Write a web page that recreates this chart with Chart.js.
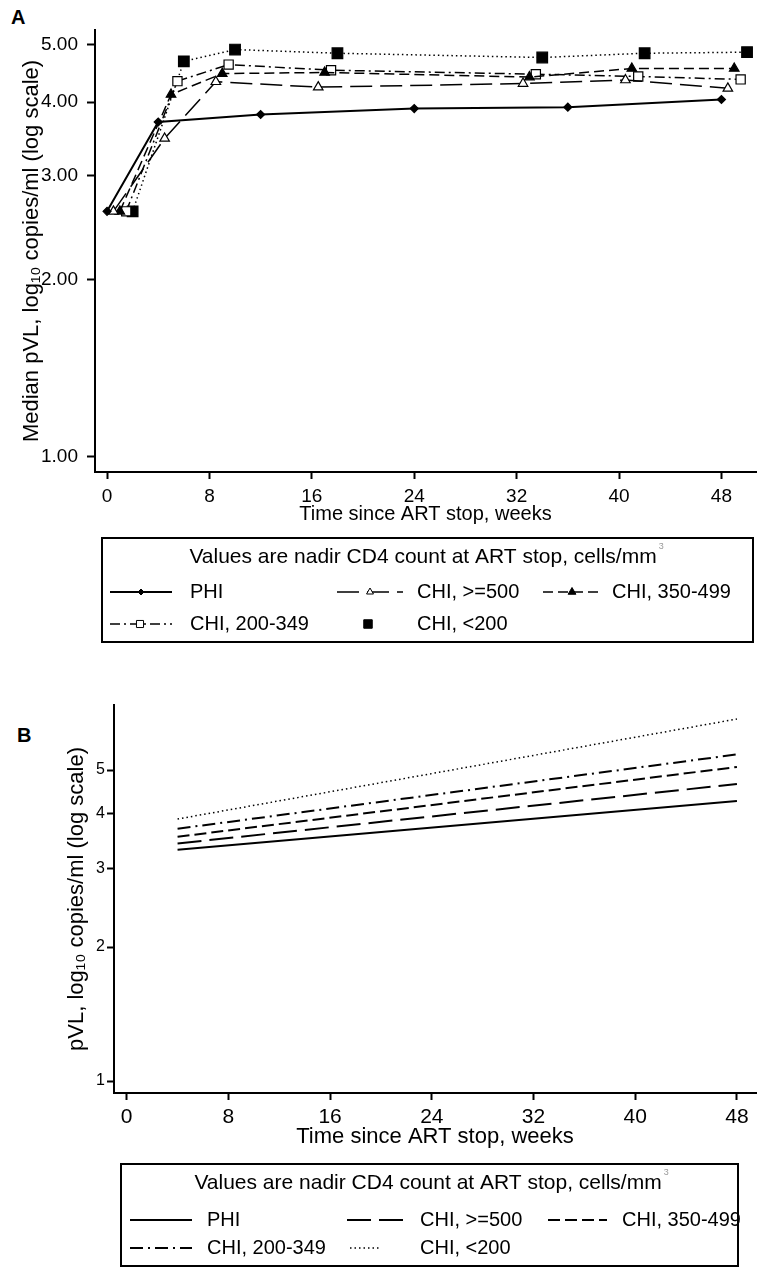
<!DOCTYPE html>
<html>
<head>
<meta charset="utf-8">
<script src="https://cdn.jsdelivr.net/npm/chart.js@4"></script>
<style>
body { margin: 0; background: #fff; }
#page { position: relative; width: 765px; height: 1276px; background: #fff; font-family: "Liberation Sans", Arial, sans-serif; }
canvas { position: absolute; left: 0; }
.panel { position: absolute; font-weight: bold; font-size: 20px; line-height: 24px; }
</style>
</head>
<body>
<div id="page">
    <div class="panel" style="left:11px; top:5px;">A</div>
    <canvas id="chartA" width="765" height="650" style="top:0;"></canvas>
    <div class="panel" style="left:17px; top:723px;">B</div>
    <canvas id="chartB" width="765" height="586" style="top:690px;"></canvas>
</div>
<script>
// group names (legend order)
const groupLabels = ['PHI', 'CHI, >=500', 'CHI, 350-499', 'CHI, 200-349', 'CHI, <200'];
const weekTicks = [0, 8, 16, 24, 32, 40, 48];
const pvlTicks = [1, 2, 3, 4, 5];

// panel A - observed medians, log10 copies/ml (x slightly shifted per group)
const weeksPHI = [0, 4, 12, 24, 36, 48];
const medPHI = [2.61, 3.70, 3.81, 3.90, 3.92, 4.04];
const weeksGE500 = [0.5, 4.5, 8.5, 16.5, 32.5, 40.5, 48.5];
const medGE500 = [2.61, 3.47, 4.33, 4.24, 4.30, 4.36, 4.22];
const weeks350 = [1, 5, 9, 17, 33, 41, 49];
const med350 = [2.61, 4.12, 4.47, 4.49, 4.41, 4.56, 4.56];
const weeks200 = [1.5, 5.5, 9.5, 17.5, 33.5, 41.5, 49.5];
const med200 = [2.61, 4.34, 4.63, 4.53, 4.46, 4.42, 4.37];
const weeksLT200 = [2, 6, 10, 18, 34, 42, 50];
const medLT200 = [2.61, 4.69, 4.91, 4.84, 4.76, 4.84, 4.86];

// panel B - fitted lines
const fitWeeks = [4, 48];
const fitPHI = [3.31, 4.26];
const fitGE500 = [3.42, 4.65];
const fit350 = [3.54, 5.08];
const fit200 = [3.69, 5.42];
const fitLT200 = [3.88, 6.51];

const legendTitle = 'Values are nadir CD4 count at ART stop, cells/mm';
const fontFam = '"Liberation Sans", Arial, sans-serif';

Chart.defaults.font.family = fontFam;
Chart.defaults.color = '#000';

function pairs(xs, ys) {
    return xs.map(function (x, i) { return { x: x, y: ys[i] }; });
}

function lineSet(label, data, dash, width, style, radius, fill) {
    return {
        label: label,
        data: data,
        borderColor: '#000',
        borderWidth: width,
        borderDash: dash,
        pointStyle: style,
        pointRadius: radius,
        pointHoverRadius: radius,
        pointBorderWidth: 1.2,
        pointBackgroundColor: fill,
        pointBorderColor: '#000',
        fill: false,
        tension: 0
    };
}

// boxed legend drawn under the plot, like the original
const boxLegend = {
    id: 'boxLegend',
    afterDraw(chart, args, opts) {
        if (!opts.box) return;
        const ctx = chart.ctx;
        const b = opts.box;
        ctx.save();
        ctx.strokeStyle = '#000';
        ctx.lineWidth = 2;
        ctx.strokeRect(b.left, b.top, b.right - b.left, b.bottom - b.top);

        ctx.fillStyle = '#000';
        ctx.textBaseline = 'middle';
        ctx.textAlign = 'center';
        ctx.font = opts.titleSize + 'px ' + fontFam;
        ctx.fillText(legendTitle, opts.titleX, opts.titleY);
        let w = ctx.measureText(legendTitle).width;
        ctx.font = '9px ' + fontFam;
        ctx.fillStyle = '#999';
        ctx.textAlign = 'left';
        ctx.fillText('3', opts.titleX + w / 2 + 2, opts.titleY - 10);

        opts.items.forEach(function (it) {
            let ds = chart.data.datasets[it.ds];
            ctx.save();
            ctx.strokeStyle = '#000';
            if (it.x1 !== undefined) {
                ctx.setLineDash(ds.borderDash || []);
                ctx.lineWidth = ds.borderWidth;
                ctx.beginPath();
                ctx.moveTo(it.x1, it.y);
                ctx.lineTo(it.x2, it.y);
                ctx.stroke();
            }
            ctx.setLineDash([]);
            if (it.r) {
                ctx.fillStyle = ds.pointBackgroundColor;
                ctx.lineWidth = 1;
                Chart.helpers.drawPoint(ctx, { pointStyle: ds.pointStyle, radius: it.r, borderWidth: 1, rotation: 0 }, it.mx, it.y);
            }
            ctx.restore();
            ctx.fillStyle = '#000';
            ctx.textAlign = 'left';
            ctx.textBaseline = 'middle';
            ctx.font = opts.textSize + 'px ' + fontFam;
            ctx.fillText(ds.label, it.tx, it.y);
        });
        ctx.restore();
    }
};

function axisStyle(tickLen) {
    return {
        grid: { display: true, drawOnChartArea: false, drawTicks: true, tickLength: tickLen, tickWidth: 2, tickColor: '#000' },
        border: { display: true, color: '#000', width: 2 }
    };
}

// ---------- panel A ----------
new Chart(document.getElementById('chartA').getContext('2d'), {
    type: 'line',
    data: {
        datasets: [
            lineSet(groupLabels[0], pairs(weeksPHI, medPHI), [], 2, 'rectRot', 4, '#000'),
            lineSet(groupLabels[1], pairs(weeksGE500, medGE500), [22, 8], 1.5, 'triangle', 5.5, '#fff'),
            lineSet(groupLabels[2], pairs(weeks350, med350), [10, 5], 1.5, 'triangle', 5.5, '#000'),
            lineSet(groupLabels[3], pairs(weeks200, med200), [10, 4, 2, 4], 1.5, 'rect', 6.5, '#fff'),
            lineSet(groupLabels[4], pairs(weeksLT200, medLT200), [1.5, 3], 1.5, 'rect', 7.5, '#000')
        ]
    },
    options: {
        responsive: false,
        animation: false,
        devicePixelRatio: 1,
        layout: { padding: { left: 0, top: 30, right: 9, bottom: 122 } },
        plugins: {
            legend: { display: false },
            tooltip: { enabled: false },
            boxLegend: {
                box: { left: 102, top: 538, right: 753, bottom: 642 },
                titleX: 423, titleY: 557, titleSize: 21, textSize: 20,
                items: [
                    { ds: 0, x1: 110, x2: 172, mx: 141, tx: 190, y: 592, r: 3 },
                    { ds: 1, x1: 337, x2: 403, mx: 370, tx: 417, y: 592, r: 4 },
                    { ds: 2, x1: 543, x2: 600, mx: 572, tx: 612, y: 592, r: 4.5 },
                    { ds: 3, x1: 110, x2: 172, mx: 140, tx: 190, y: 624, r: 5 },
                    { ds: 4, mx: 368, tx: 417, y: 624, r: 6 }
                ]
            }
        },
        scales: {
            x: Object.assign(axisStyle(7), {
                type: 'linear',
                min: -0.94,
                max: 50.7,
                afterBuildTicks: function (s) { s.ticks = weekTicks.map(function (v) { return { value: v }; }); },
                afterFit: function (s) { s.height = 56; },
                ticks: { font: { size: 19 }, padding: 6, maxRotation: 0, autoSkip: false },
                title: { display: true, text: 'Time since ART stop, weeks', font: { size: 20 }, padding: { top: 0, bottom: 2 } }
            }),
            y: Object.assign(axisStyle(8), {
                type: 'logarithmic',
                min: 0.943,
                max: 5.3,
                afterBuildTicks: function (s) { s.ticks = pvlTicks.map(function (v) { return { value: v }; }); },
                afterFit: function (s) { s.width = 95; },
                ticks: { font: { size: 19 }, padding: 9, callback: function (v) { return Number(v).toFixed(2); } },
                title: { display: true, text: 'Median pVL, log\u2081\u2080 copies/ml (log scale)', font: { size: 22 }, padding: { top: 19, bottom: 0 } }
            })
        }
    },
    plugins: [boxLegend]
});

// ---------- panel B ----------
new Chart(document.getElementById('chartB').getContext('2d'), {
    type: 'line',
    data: {
        datasets: [
            lineSet(groupLabels[0], pairs(fitWeeks, fitPHI), [], 2, 'circle', 0, '#000'),
            lineSet(groupLabels[1], pairs(fitWeeks, fitGE500), [24, 8], 2, 'circle', 0, '#000'),
            lineSet(groupLabels[2], pairs(fitWeeks, fit350), [12, 5], 2, 'circle', 0, '#000'),
            lineSet(groupLabels[3], pairs(fitWeeks, fit200), [13, 5, 2, 5], 2, 'circle', 0, '#000'),
            lineSet(groupLabels[4], pairs(fitWeeks, fitLT200), [1.5, 3], 1.5, 'circle', 0, '#000')
        ]
    },
    options: {
        responsive: false,
        animation: false,
        devicePixelRatio: 1,
        layout: { padding: { left: 0, top: 15, right: 9, bottom: 123 } },
        plugins: {
            legend: { display: false },
            tooltip: { enabled: false },
            boxLegend: {
                box: { left: 121, top: 474, right: 738, bottom: 576 },
                titleX: 428, titleY: 493, titleSize: 21, textSize: 20,
                items: [
                    { ds: 0, x1: 130, x2: 192, tx: 207, y: 530 },
                    { ds: 1, x1: 347, x2: 408, tx: 420, y: 530 },
                    { ds: 2, x1: 548, x2: 607, tx: 622, y: 530 },
                    { ds: 3, x1: 130, x2: 192, tx: 207, y: 558 },
                    { ds: 4, x1: 350, x2: 381, tx: 420, y: 558 }
                ]
            }
        },
        scales: {
            x: Object.assign(axisStyle(7), {
                type: 'linear',
                min: -1.0,
                max: 49.5,
                afterBuildTicks: function (s) { s.ticks = weekTicks.map(function (v) { return { value: v }; }); },
                afterFit: function (s) { s.height = 60; },
                ticks: { font: { size: 21 }, padding: 5, maxRotation: 0, autoSkip: false },
                title: { display: true, text: 'Time since ART stop, weeks', font: { size: 22 }, padding: { top: 0, bottom: 3 } }
            }),
            y: Object.assign(axisStyle(7), {
                type: 'logarithmic',
                min: 0.94,
                max: 7.0,
                afterBuildTicks: function (s) { s.ticks = pvlTicks.map(function (v) { return { value: v }; }); },
                afterFit: function (s) { s.width = 114; },
                ticks: { font: { size: 16 }, padding: 2, callback: function (v) { return String(v); } },
                title: { display: true, text: 'pVL, log\u2081\u2080 copies/ml (log scale)', font: { size: 22 }, padding: { top: 64, bottom: 0 } }
            })
        }
    },
    plugins: [boxLegend]
});
</script>
</body>
</html>
